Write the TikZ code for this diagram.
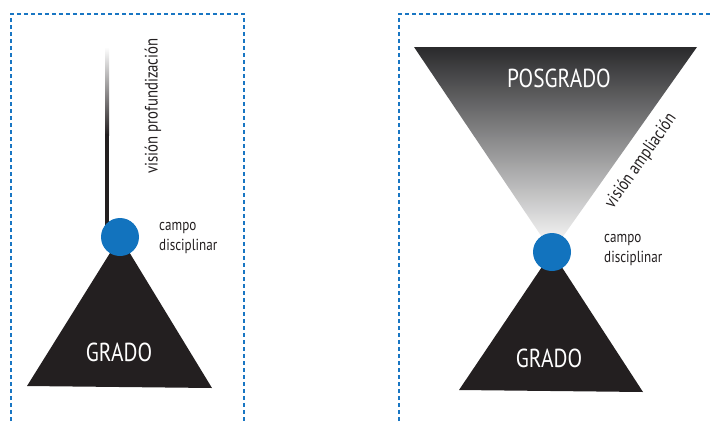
\documentclass[tikz,border=0pt]{standalone}
\usepackage{fontspec}
\setmainfont{PT Sans}[FakeStretch=0.82]
\definecolor{dashblue}{RGB}{25,118,195}
\definecolor{dotblue}{RGB}{18,115,190}
\definecolor{ink}{RGB}{35,31,32}
\definecolor{topgray}{RGB}{42,42,44}
\tikzset{
  frame/.style={dashblue, line width=1.6pt, dash pattern=on 4pt off 3pt},
  dot/.style={circle, fill=dotblue, minimum size=38pt, inner sep=0pt},
  big/.style={text=white, font=\fontsize{26}{30}\selectfont, inner sep=0pt},
  small/.style={text=ink, font=\fontsize{16}{20}\selectfont, inner sep=0pt, align=left},
  slanted/.style={text=ink, font=\fontsize{18}{20}\selectfont, inner sep=0pt},
}
\begin{document}
\begin{tikzpicture}[x=1pt,y=-1pt]
\useasboundingbox (0,0) rectangle (713,421);
% frames
\draw[frame] (11,421) -- (11,14) -- (244,14) -- (244,421);
\draw[frame] (399,421) -- (399,14) -- (713,14);
% left diagram
\coordinate (ltop) at (107,47);
\shade[top color=white, bottom color=ink] (105,47) rectangle (109,135);
\fill[ink] (105,134) rectangle (109,232);
\fill[ink] (120,237) -- (27,386) -- (212,388) -- cycle;
\node[dot] (cl) at (120,237) {};
\node[big] (gl) at (119,352) {GRADO};
\node[slanted, rotate=90] (vp) at (153,106) {visión profundización};
\node[small, anchor=west] (cdl) at (159,238) {campo\\disciplinar};
% right diagram
\shade[top color=topgray, bottom color=white] (414,47) -- (697,47) -- (552,252) -- cycle;
\fill[ink] (552,252) -- (459,390) -- (643,392) -- cycle;
\node[dot] (cr) at (552,252) {};
\node[big] (pg) at (559,78) {POSGRADO};
\node[big] (gr) at (549,358) {GRADO};
\node[slanted, rotate=55] (va) at (641,161) {visión ampliación};
\node[small, anchor=west] (cdr) at (604,250) {campo\\disciplinar};
\end{tikzpicture}
\end{document}
